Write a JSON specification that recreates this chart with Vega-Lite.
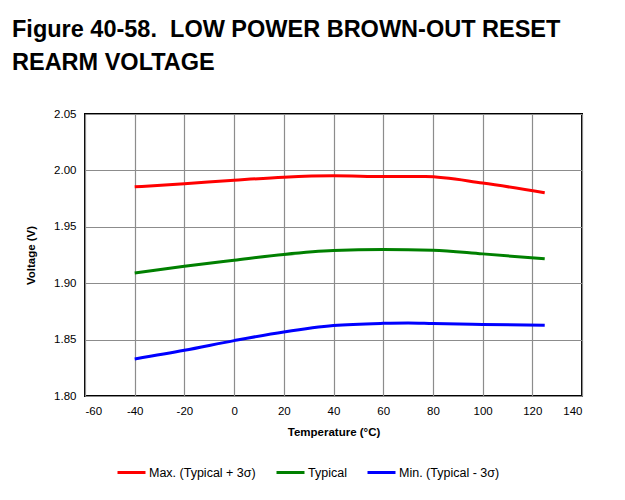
{
  "$schema": "https://vega.github.io/schema/vega-lite/v6.json",
  "autosize": "none",
  "width": 497,
  "height": 282,
  "padding": {"left": 85, "top": 114, "right": 43, "bottom": 104},
  "background": "white",
  "title": {
    "text": ["Figure 40-58.\u00a0 LOW POWER BROWN-OUT RESET", "REARM VOLTAGE"],
    "anchor": "start",
    "frame": "group",
    "dx": -73,
    "offset": 15,
    "font": "Liberation Sans",
    "fontSize": 23.5,
    "fontWeight": "bold",
    "color": "black",
    "lineHeight": 32.5,
    "baseline": "alphabetic"
  },
  "data": {
    "values": [
      {"T": -40, "V": 1.9854, "s": "Max. (Typical + 3σ)"},
      {"T": -20, "V": 1.9882, "s": "Max. (Typical + 3σ)"},
      {"T": 0, "V": 1.9913, "s": "Max. (Typical + 3σ)"},
      {"T": 20, "V": 1.9940, "s": "Max. (Typical + 3σ)"},
      {"T": 40, "V": 1.9952, "s": "Max. (Typical + 3σ)"},
      {"T": 60, "V": 1.9946, "s": "Max. (Typical + 3σ)"},
      {"T": 77, "V": 1.9945, "s": "Max. (Typical + 3σ)"},
      {"T": 100, "V": 1.9888, "s": "Max. (Typical + 3σ)"},
      {"T": 125, "V": 1.9801, "s": "Max. (Typical + 3σ)"},
      {"T": -40, "V": 1.9091, "s": "Typical"},
      {"T": -20, "V": 1.9151, "s": "Typical"},
      {"T": 0, "V": 1.9204, "s": "Typical"},
      {"T": 20, "V": 1.9255, "s": "Typical"},
      {"T": 40, "V": 1.9289, "s": "Typical"},
      {"T": 60, "V": 1.9298, "s": "Typical"},
      {"T": 80, "V": 1.9293, "s": "Typical"},
      {"T": 100, "V": 1.9260, "s": "Typical"},
      {"T": 125, "V": 1.9216, "s": "Typical"},
      {"T": -40, "V": 1.8328, "s": "Min. (Typical - 3σ)"},
      {"T": -20, "V": 1.8405, "s": "Min. (Typical - 3σ)"},
      {"T": 0, "V": 1.8491, "s": "Min. (Typical - 3σ)"},
      {"T": 20, "V": 1.8568, "s": "Min. (Typical - 3σ)"},
      {"T": 40, "V": 1.8625, "s": "Min. (Typical - 3σ)"},
      {"T": 60, "V": 1.8644, "s": "Min. (Typical - 3σ)"},
      {"T": 70, "V": 1.8647, "s": "Min. (Typical - 3σ)"},
      {"T": 80, "V": 1.8642, "s": "Min. (Typical - 3σ)"},
      {"T": 100, "V": 1.8634, "s": "Min. (Typical - 3σ)"},
      {"T": 125, "V": 1.8627, "s": "Min. (Typical - 3σ)"}
    ]
  },
  "mark": {"type": "line", "interpolate": "monotone", "strokeWidth": 3},
  "encoding": {
    "x": {
      "field": "T", "type": "quantitative",
      "scale": {"domain": [-60, 140], "nice": false, "zero": false},
      "axis": {
        "values": [-60, -40, -20, 0, 20, 40, 60, 80, 100, 120, 140],
        "labelExpr": "replace(datum.label, '−', '-')",
        "title": "Temperature (°C)",
        "ticks": false,
        "labelPadding": 9,
        "titlePadding": 10
      }
    },
    "y": {
      "field": "V", "type": "quantitative",
      "scale": {"domain": [1.8, 2.05], "nice": false, "zero": false},
      "axis": {
        "values": [1.8, 1.85, 1.9, 1.95, 2.0, 2.05],
        "format": ".2f",
        "title": "Voltage (V)",
        "ticks": false,
        "labelPadding": 9,
        "titlePadding": 17
      }
    },
    "color": {
      "field": "s", "type": "nominal",
      "scale": {
        "domain": ["Max. (Typical + 3σ)", "Typical", "Min. (Typical - 3σ)"],
        "range": ["#FF0000", "#008000", "#0000FF"]
      },
      "legend": {
        "title": null,
        "orient": "none",
        "legendX": 31,
        "legendY": 343,
        "direction": "horizontal",
        "symbolType": "stroke",
        "symbolSize": 784,
        "symbolStrokeWidth": 3,
        "labelFont": "Liberation Sans",
        "labelFontSize": 12.5,
        "labelColor": "black",
        "labelOffset": 2,
        "columnPadding": 14
      }
    }
  },
  "config": {
    "view": {"stroke": "black", "strokeWidth": 2},
    "axis": {
      "domain": false,
      "grid": true,
      "gridColor": "#8c8c8c",
      "gridWidth": 1.2,
      "gridOpacity": 1,
      "labelFont": "Liberation Sans",
      "labelFontSize": 11.5,
      "labelColor": "black",
      "titleFont": "Liberation Sans",
      "titleFontSize": 11.5,
      "titleFontWeight": "bold",
      "titleColor": "black"
    }
  }
}
